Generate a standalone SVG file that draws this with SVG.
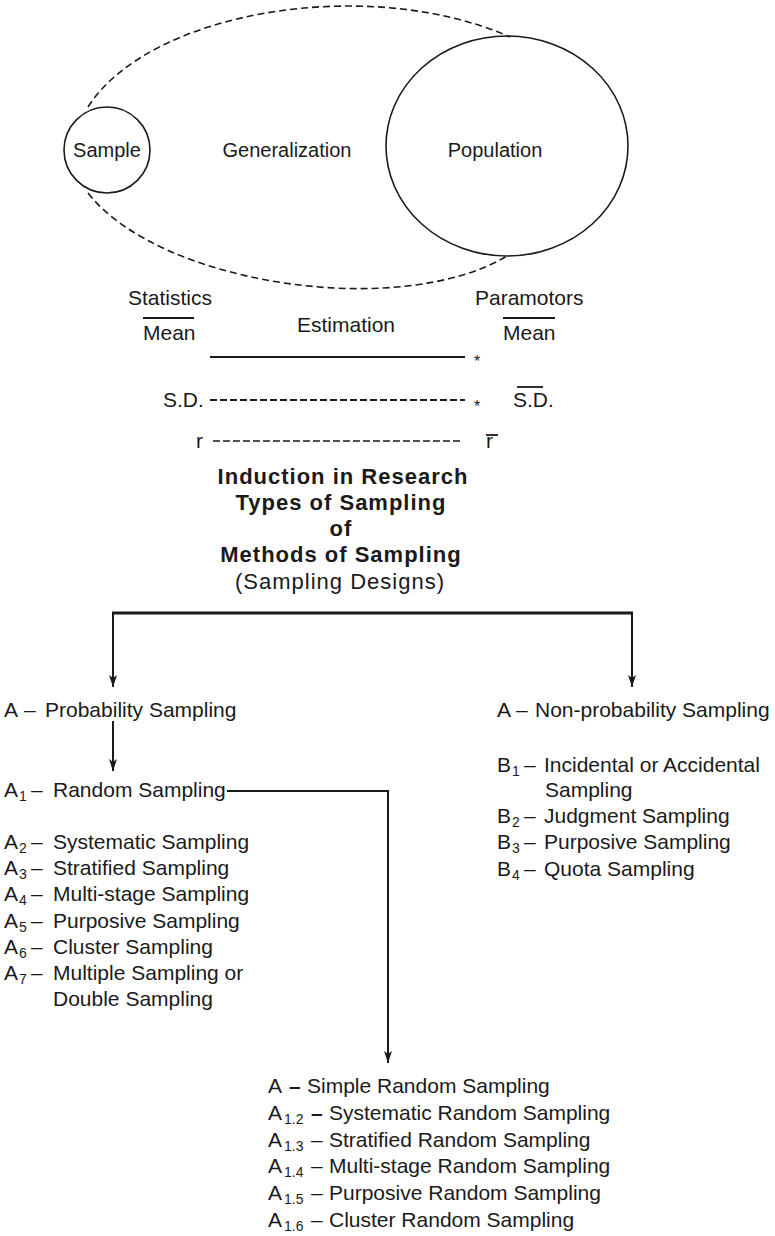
<svg xmlns="http://www.w3.org/2000/svg" width="775" height="1236" viewBox="0 0 775 1236">
<style>
  text { font-family: "Liberation Sans", Arial, Helvetica, sans-serif; fill: #1a1a1a; }
  .t { font-size: 21px; }
  .c { font-size: 20px; }
  .s { font-size: 14px; }
  .b { font-size: 22px; font-weight: bold; letter-spacing: 1px; }
  .p { font-size: 22px; letter-spacing: 1px; }
  .star { font-size: 16px; }
  .shape { fill: none; stroke: #1a1a1a; stroke-width: 1.6; }
  .dash { fill: none; stroke: #1a1a1a; stroke-width: 1.6; stroke-dasharray: 7 4; }
  .ln { fill: none; stroke: #1a1a1a; stroke-width: 1.8; }
  .conn { fill: none; stroke: #1a1a1a; stroke-width: 2; }
  .thick { fill: none; stroke: #1a1a1a; stroke-width: 2.8; }
</style>
<defs>
  <marker id="arr" viewBox="0 0 12 8" refX="12" refY="4" markerWidth="12" markerHeight="8" markerUnits="userSpaceOnUse" orient="auto">
    <path d="M0,0 L12,4 L0,8 L3,4 z" fill="#1a1a1a"/>
  </marker>
</defs>

<!-- Generalization figure -->
<g id="generalization">
  <path class="dash" d="M88,107 C150,10 370,-25 510,37"/>
  <path class="dash" d="M88,193 C160,285 400,320 507,256"/>
  <text class="c" x="287" y="157" text-anchor="middle">Generalization</text>
</g>
<g id="sample">
  <circle class="shape" cx="107" cy="150" r="43"/>
  <text class="c" x="107" y="157" text-anchor="middle">Sample</text>
</g>
<g id="population">
  <ellipse class="shape" cx="507" cy="146" rx="121" ry="110"/>
  <text class="c" x="495" y="157" text-anchor="middle">Population</text>
</g>

<!-- Estimation table -->
<g id="estimation">
  <text class="t" x="128" y="305">Statistics</text>
  <line class="ln" x1="143" y1="318" x2="194" y2="318"/>
  <text class="t" x="143" y="340">Mean</text>
  <text class="t" x="346" y="332" text-anchor="middle">Estimation</text>
  <text class="t" x="475" y="305">Paramotors</text>
  <line class="ln" x1="503" y1="318" x2="555" y2="318"/>
  <text class="t" x="503" y="340">Mean</text>

  <line class="ln" x1="210" y1="357" x2="465" y2="357"/>
  <text class="star" x="477" y="367" text-anchor="middle">*</text>

  <text class="t" x="163" y="407">S.D.</text>
  <line x1="210" y1="400" x2="465" y2="400" stroke="#1a1a1a" stroke-width="2.2" stroke-dasharray="7 3"/>
  <text class="star" x="477" y="412" text-anchor="middle">*</text>
  <line class="ln" x1="517" y1="387" x2="543" y2="387"/>
  <text class="t" x="513" y="407">S.D.</text>

  <text class="t" x="196" y="448">r</text>
  <line x1="213" y1="441" x2="462" y2="441" stroke="#1a1a1a" stroke-width="1.6" stroke-dasharray="7 3"/>
  <line class="ln" x1="486" y1="435" x2="498" y2="435"/>
  <text class="t" x="486" y="448">r</text>
</g>

<!-- Title -->
<g id="title">
  <text class="b" x="343" y="484" text-anchor="middle">Induction in Research</text>
  <text class="b" x="341" y="510" text-anchor="middle">Types of Sampling</text>
  <text class="b" x="341" y="536" text-anchor="middle">of</text>
  <text class="b" x="341" y="562" text-anchor="middle">Methods of Sampling</text>
  <text class="p" x="340" y="589" text-anchor="middle">(Sampling Designs)</text>
</g>

<!-- Connectors -->
<g id="connectors">
  <line class="thick" x1="112" y1="613" x2="633" y2="613"/>
  <line class="conn" x1="113" y1="613" x2="113" y2="687" marker-end="url(#arr)"/>
  <line class="conn" x1="632" y1="613" x2="632" y2="687" marker-end="url(#arr)"/>
  <line class="conn" x1="113" y1="721" x2="113" y2="771" marker-end="url(#arr)"/>
  <polyline class="conn" points="227,791 388,791 388,1063" marker-end="url(#arr)"/>
</g>

<!-- Probability sampling -->
<g id="probability">
  <text class="t" y="717"><tspan x="4">A</tspan><tspan x="24">–</tspan><tspan x="45">Probability Sampling</tspan></text>
</g>
<g id="probability-list">
  <text class="t" y="797"><tspan x="4">A</tspan><tspan class="s" x="19" dy="4">1</tspan><tspan x="31" dy="-4">–</tspan><tspan x="53">Random Sampling</tspan></text>
  <text class="t" y="849"><tspan x="4">A</tspan><tspan class="s" x="19" dy="4">2</tspan><tspan x="31" dy="-4">–</tspan><tspan x="53">Systematic Sampling</tspan></text>
  <text class="t" y="875"><tspan x="4">A</tspan><tspan class="s" x="19" dy="4">3</tspan><tspan x="31" dy="-4">–</tspan><tspan x="53">Stratified Sampling</tspan></text>
  <text class="t" y="901"><tspan x="4">A</tspan><tspan class="s" x="19" dy="4">4</tspan><tspan x="31" dy="-4">–</tspan><tspan x="53">Multi-stage Sampling</tspan></text>
  <text class="t" y="928"><tspan x="4">A</tspan><tspan class="s" x="19" dy="4">5</tspan><tspan x="31" dy="-4">–</tspan><tspan x="53">Purposive Sampling</tspan></text>
  <text class="t" y="954"><tspan x="4">A</tspan><tspan class="s" x="19" dy="4">6</tspan><tspan x="31" dy="-4">–</tspan><tspan x="53">Cluster Sampling</tspan></text>
  <text class="t" y="980"><tspan x="4">A</tspan><tspan class="s" x="19" dy="4">7</tspan><tspan x="31" dy="-4">–</tspan><tspan x="53">Multiple Sampling or</tspan></text>
  <text class="t" x="53" y="1006">Double Sampling</text>
</g>

<!-- Non-probability sampling -->
<g id="non-probability">
  <text class="t" y="717"><tspan x="497">A</tspan><tspan x="516">–</tspan><tspan x="535">Non-probability Sampling</tspan></text>
</g>
<g id="non-probability-list">
  <text class="t" y="772"><tspan x="497">B</tspan><tspan class="s" x="512" dy="4">1</tspan><tspan x="524" dy="-4">–</tspan><tspan x="544">Incidental or Accidental</tspan></text>
  <text class="t" x="545" y="797">Sampling</text>
  <text class="t" y="823"><tspan x="497">B</tspan><tspan class="s" x="512" dy="4">2</tspan><tspan x="524" dy="-4">–</tspan><tspan x="544">Judgment Sampling</tspan></text>
  <text class="t" y="849"><tspan x="497">B</tspan><tspan class="s" x="512" dy="4">3</tspan><tspan x="524" dy="-4">–</tspan><tspan x="544">Purposive Sampling</tspan></text>
  <text class="t" y="876"><tspan x="497">B</tspan><tspan class="s" x="512" dy="4">4</tspan><tspan x="524" dy="-4">–</tspan><tspan x="544">Quota Sampling</tspan></text>
</g>

<!-- Random sampling sub-types -->
<g id="random-list">
  <text class="t" y="1093"><tspan x="268">A</tspan><tspan x="289" font-weight="bold">–</tspan><tspan x="307">Simple Random Sampling</tspan></text>
  <text class="t" y="1120"><tspan x="268">A</tspan><tspan class="s" x="284" dy="4">1.2</tspan><tspan x="311" dy="-4" font-weight="bold">–</tspan><tspan x="329">Systematic Random Sampling</tspan></text>
  <text class="t" y="1147"><tspan x="268">A</tspan><tspan class="s" x="284" dy="4">1.3</tspan><tspan x="311" dy="-4">–</tspan><tspan x="329">Stratified Random Sampling</tspan></text>
  <text class="t" y="1173"><tspan x="268">A</tspan><tspan class="s" x="284" dy="4">1.4</tspan><tspan x="311" dy="-4">–</tspan><tspan x="329">Multi-stage Random Sampling</tspan></text>
  <text class="t" y="1200"><tspan x="268">A</tspan><tspan class="s" x="284" dy="4">1.5</tspan><tspan x="311" dy="-4">–</tspan><tspan x="329">Purposive Random Sampling</tspan></text>
  <text class="t" y="1227"><tspan x="268">A</tspan><tspan class="s" x="284" dy="4">1.6</tspan><tspan x="311" dy="-4">–</tspan><tspan x="329">Cluster Random Sampling</tspan></text>
</g>
</svg>
